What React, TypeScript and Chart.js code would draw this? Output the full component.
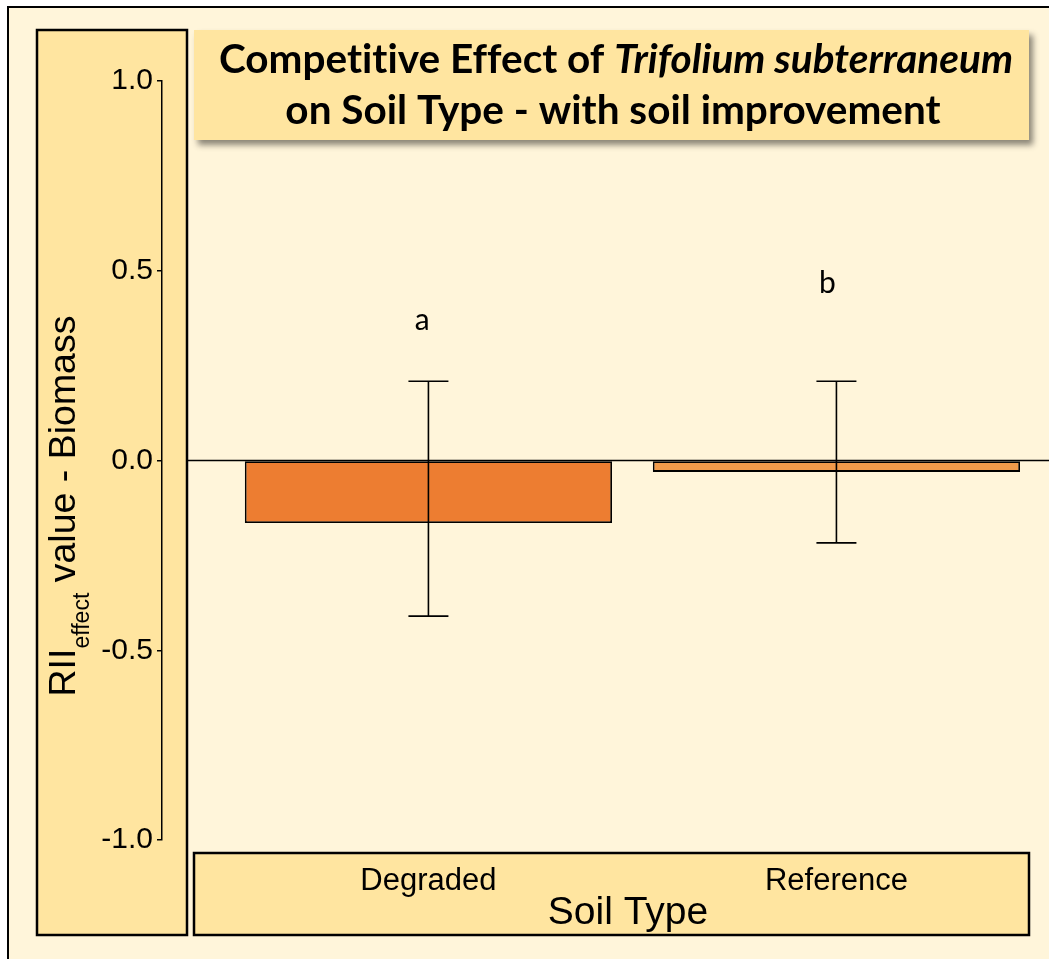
import React, { useEffect, useRef } from "react";
import { Chart, registerables } from "chart.js";

Chart.register(...registerables);

// ---- data ----
const categories = ["Degraded", "Reference"];
const riiMeans = [-0.165, -0.03];
const errLow = [-0.41, -0.217];
const errHigh = [0.209, 0.209];
const sigLetters = ["a", "b"];
const letterX = [-0.015, 0.978];
const letterY = [0.344, 0.441];
const barColors = ["#ED7D31", "#F09A4A"];
const yMin = -1;
const yMax = 1;
const yStep = 0.5;

const CREAM = "#FFF5DA";
const PANEL = "#FFE5A0";

const TITLE_L1 = [
  { t: "Competitive Effect of ", italic: false },
  { t: "Trifolium subterraneum", italic: true },
];
const TITLE_L2 = "on Soil Type - with soil improvement";

function rect(ctx: CanvasRenderingContext2D, x: number, y: number, w: number, h: number, fill: string, stroke?: string, lw = 2) {
  ctx.fillStyle = fill;
  ctx.fillRect(x, y, w, h);
  if (stroke) {
    ctx.strokeStyle = stroke;
    ctx.lineWidth = lw;
    ctx.strokeRect(x, y, w, h);
  }
}

const decorPlugin = {
  id: "decor",
  beforeDraw(chart: any) {
    const ctx: CanvasRenderingContext2D = chart.ctx;
    ctx.save();
    ctx.fillStyle = "#FFFFFF";
    ctx.fillRect(0, 0, chart.width, chart.height);
    // outer frame
    ctx.fillStyle = CREAM;
    ctx.fillRect(8, 7, chart.width, chart.height);
    ctx.strokeStyle = "#000";
    ctx.lineWidth = 2;
    ctx.beginPath();
    ctx.moveTo(8, chart.height + 5);
    ctx.lineTo(8, 7);
    ctx.lineTo(chart.width + 5, 7);
    ctx.stroke();
    // left panel
    rect(ctx, 37, 30, 150, 905, PANEL, "#000", 2.5);
    // bottom panel
    rect(ctx, 194, 853, 835, 82, PANEL, "#000", 2.5);
    // title box with shadow
    ctx.save();
    ctx.shadowColor = "rgba(0,0,0,0.45)";
    ctx.shadowBlur = 6;
    ctx.shadowOffsetX = 4;
    ctx.shadowOffsetY = 5;
    ctx.fillStyle = PANEL;
    ctx.fillRect(194, 30, 835, 110);
    ctx.restore();
    ctx.restore();
  },
  beforeDatasetsDraw(chart: any) {
    const ctx: CanvasRenderingContext2D = chart.ctx;
    const y0 = chart.scales.y.getPixelForValue(0);
    ctx.save();
    ctx.strokeStyle = "#000";
    ctx.lineWidth = 1.5;
    ctx.beginPath();
    ctx.moveTo(188, y0);
    ctx.lineTo(chart.chartArea.right, y0);
    ctx.stroke();
    ctx.restore();
  },
  afterDatasetsDraw(chart: any) {
    const ctx: CanvasRenderingContext2D = chart.ctx;
    const xs = chart.scales.x;
    const ys = chart.scales.y;
    ctx.save();
    ctx.strokeStyle = "#000";
    ctx.lineWidth = 1.6;
    categories.forEach((_, i) => {
      const x = xs.getPixelForValue(i);
      const yh = ys.getPixelForValue(errHigh[i]);
      const yl = ys.getPixelForValue(errLow[i]);
      ctx.beginPath();
      ctx.moveTo(x, yh);
      ctx.lineTo(x, yl);
      ctx.moveTo(x - 20, yh);
      ctx.lineTo(x + 20, yh);
      ctx.moveTo(x - 20, yl);
      ctx.lineTo(x + 20, yl);
      ctx.stroke();
    });
    ctx.fillStyle = "#000";
    ctx.font = "30px Lato";
    ctx.textAlign = "center";
    ctx.textBaseline = "alphabetic";
    sigLetters.forEach((l, i) => {
      ctx.fillText(l, xs.getPixelForValue(letterX[i]), ys.getPixelForValue(letterY[i]));
    });
    ctx.restore();
  },
  afterDraw(chart: any) {
    const ctx: any = chart.ctx;
    ctx.save();
    ctx.fillStyle = "#000";
    ctx.textBaseline = "alphabetic";
    ctx.textAlign = "left";
    // title
    ctx.letterSpacing = "0.01px";
    const fN = "bold 40.5px Lato";
    const fI = "italic bold 40.5px Lato";
    let total = 0;
    TITLE_L1.forEach((p) => {
      ctx.font = p.italic ? fI : fN;
      total += ctx.measureText(p.t).width;
    });
    let x = 616 - total / 2;
    TITLE_L1.forEach((p) => {
      ctx.font = p.italic ? fI : fN;
      ctx.fillText(p.t, x, 73);
      x += ctx.measureText(p.t).width;
    });
    ctx.font = fN;
    ctx.textAlign = "center";
    ctx.fillText(TITLE_L2, 613, 124);
    ctx.letterSpacing = "0px";

    // x axis title
    ctx.font = "39px 'Liberation Sans'";
    ctx.fillText("Soil Type", 628, 924);

    // y axis title with subscript
    ctx.save();
    ctx.translate(75, 506);
    ctx.rotate(-Math.PI / 2);
    ctx.textAlign = "left";
    const mainF = "37.5px 'Liberation Sans'";
    const subF = "23px 'Liberation Sans'";
    const parts = [
      { t: "RII", f: mainF, dy: 0 },
      { t: "effect", f: subF, dy: 14 },
      { t: " value - Biomass", f: mainF, dy: 0 },
    ];
    let w = 0;
    parts.forEach((p) => {
      ctx.font = p.f;
      w += ctx.measureText(p.t).width;
    });
    let px = -w / 2;
    parts.forEach((p) => {
      ctx.font = p.f;
      ctx.fillText(p.t, px, p.dy);
      px += ctx.measureText(p.t).width;
    });
    ctx.restore();
    ctx.restore();
  },
};

export default function App() {
  const ref = useRef<HTMLCanvasElement>(null);
  useEffect(() => {
    if (!ref.current) return;
    const chart = new Chart(ref.current, {
      type: "bar",
      data: {
        datasets: [
          {
            data: riiMeans.map((v, i) => ({ x: i, y: v })),
            backgroundColor: barColors,
            borderColor: "#000",
            borderWidth: 1.8,
            borderSkipped: false,
            categoryPercentage: 1,
            barPercentage: 0.9,
          } as any,
        ],
      },
      options: {
        responsive: false,
        animation: false,
        devicePixelRatio: 1,
        layout: { padding: { left: 0, right: 0, top: 81, bottom: 0 } },
        plugins: {
          legend: { display: false },
          tooltip: { enabled: false },
          title: { display: false },
        },
        scales: {
          x: {
            type: "linear",
            offset: false,
            min: -0.653,
            max: 1.521,
            afterBuildTicks: (s: any) => {
              s.ticks = categories.map((_, i) => ({ value: i }));
            },
            afterFit: (s: any) => {
              s.height = 119;
            },
            ticks: {
              callback: (v: any) => categories[Number(v)] ?? "",
              font: { family: "'Liberation Sans'", size: 31 },
              color: "#000",
              padding: 23,
              maxRotation: 0,
              autoSkip: false,
            },
            grid: { display: false, drawTicks: false, offset: false },
            border: { display: false },
          },
          y: {
            min: yMin,
            max: yMax,
            afterFit: (s: any) => {
              s.width = 162;
            },
            ticks: {
              stepSize: yStep,
              callback: (v: any) => Number(v).toFixed(1),
              font: { family: "'Liberation Sans'", size: 30 },
              color: "#000",
              padding: 4,
            },
            grid: { drawOnChartArea: false, tickLength: 5, color: "#000", lineWidth: 1.5 },
            border: { display: true, color: "#000", width: 1.5 },
          },
        },
      } as any,
      plugins: [decorPlugin],
    });
    return () => chart.destroy();
  }, []);
  return (
    <div style={{ position: "absolute", left: 0, top: 0, width: 1049, height: 959 }}>
      <canvas ref={ref} width={1049} height={959} style={{ display: "block" }} />
    </div>
  );
}
